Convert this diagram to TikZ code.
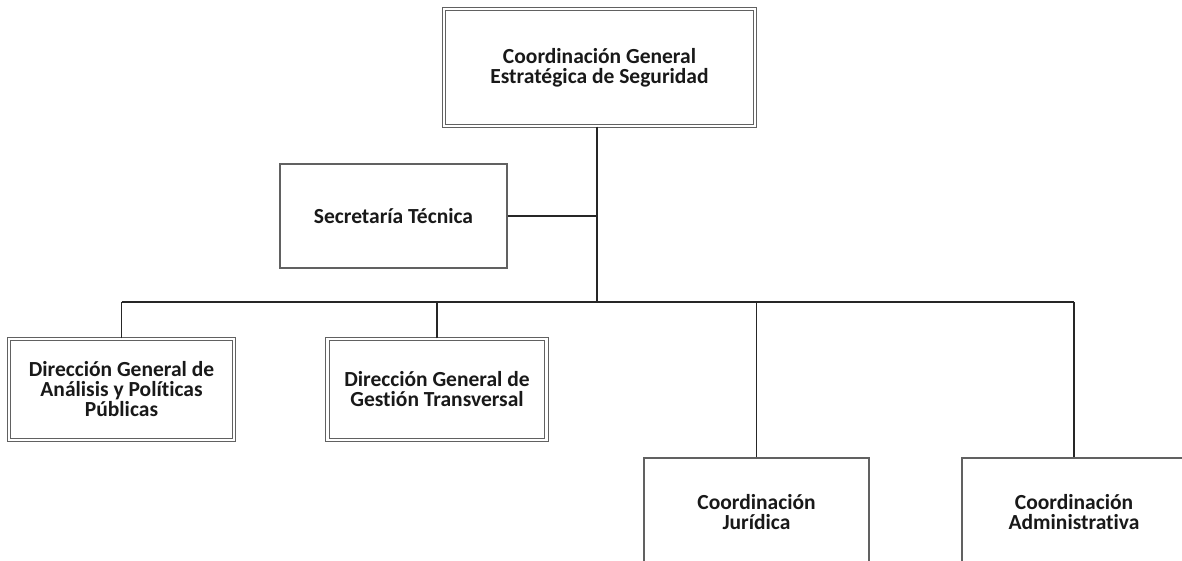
\documentclass[tikz,border=0pt]{standalone}
\usepackage{fontspec}
\setmainfont{Carlito}[Ligatures=NoCommon]
\begin{document}
\begin{tikzpicture}[x=1pt,y=-1pt,
  box/.style={draw=black!62, line width=1.2pt, rectangle, inner sep=0pt, align=center,
    font=\fontsize{21.5}{20}\selectfont\bfseries, text=black!90},
  dbox/.style={box, double=white, double distance=2.2pt, line width=1.1pt},
  conn/.style={draw=black!85, line width=1.4pt}]
\clip (0,0) rectangle (1182,561);
\fill[white] (0,0) rectangle (1182,561);
\coordinate (bus) at (597,302);
\node[dbox, minimum width=311pt, minimum height=117pt] (top) at (599.5,67.5)
  {Coordinación General\\Estratégica de Seguridad};
\node[box, minimum width=227pt, minimum height=104pt] (sec) at (393.5,216)
  {Secretaría Técnica};
\node[dbox, minimum width=225pt, minimum height=101pt] (b1) at (121.5,389.5)
  {Dirección General de\\Análisis y Políticas\\Públicas};
\node[dbox, minimum width=219pt, minimum height=101pt] (b2) at (437,389.5)
  {Dirección General de\\Gestión Transversal};
\node[box, minimum width=225pt, minimum height=108pt] (b3) at (756.5,512)
  {Coordinación\\Jurídica};
\node[box, minimum width=224pt, minimum height=108pt] (b4) at (1074,512)
  {Coordinación\\Administrativa};
\draw[conn] (top.south -| bus) -- (bus);
\draw[conn] (sec.east) -- (sec.east -| bus);
\draw[conn] (b1.north |- bus) -- (b4.north |- bus);
\draw[conn] (b1.north) -- (b1.north |- bus);
\draw[conn] (b2.north) -- (b2.north |- bus);
\draw[conn] (b3.north) -- (b3.north |- bus);
\draw[conn] (b4.north) -- (b4.north |- bus);
\end{tikzpicture}
\end{document}
